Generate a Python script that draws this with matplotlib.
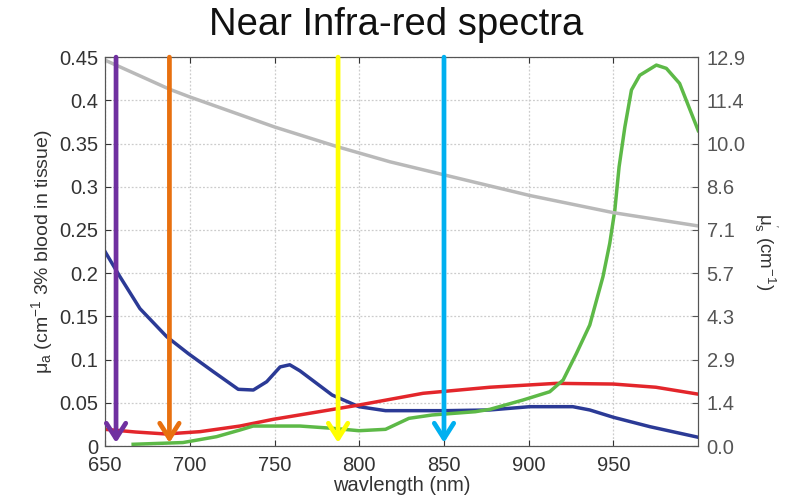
import matplotlib
matplotlib.use("Agg")
import matplotlib.pyplot as plt
import numpy as np

plt.rcParams['font.family'] = ['Liberation Sans', 'DejaVu Sans']
plt.rcParams['mathtext.fontset'] = 'custom'
plt.rcParams['mathtext.rm'] = 'Liberation Sans'
plt.rcParams['mathtext.it'] = 'Liberation Sans:italic'

# Deoxy-haemoglobin (blue), left axis
blue_x = [650, 658.8, 670.6, 686.4, 699.1, 713.9, 728.6, 737.5, 745.4, 753.3, 759, 765, 772.2,
          784, 799.8, 815.5, 850.9, 877, 900.6, 926, 936, 950, 971.6, 1000]
blue_y = [0.225, 0.196, 0.159, 0.1265, 0.107, 0.086, 0.0656, 0.0648, 0.0744, 0.0915, 0.094, 0.087,
          0.0764, 0.059, 0.0455, 0.0409, 0.0409, 0.0417, 0.0455, 0.0455, 0.0417, 0.0332, 0.0223, 0.0101]

# Oxy-haemoglobin (red), left axis
red_x = [650, 668, 686, 706, 729.6, 749.3, 765, 799.8, 837.7, 877, 916.3, 950, 975, 1000]
red_y = [0.0193, 0.0162, 0.0139, 0.0166, 0.0231, 0.0309, 0.036, 0.0474, 0.061, 0.068, 0.0725,
         0.0717, 0.068, 0.060]

# Water (green), left axis
green_x = [666.6, 696, 715.8, 729.6, 737.4, 765, 784, 799.8, 815.5, 829.3, 843, 868.5, 877, 896.6,
           912.4, 920.3, 928.1, 936, 943.8, 947.8, 950.8, 953.3, 956.7, 960.6, 965.5, 975.3,
           981.2, 989, 1000]
green_y = [0.002, 0.004, 0.0108, 0.0185, 0.0231, 0.0231, 0.0205, 0.0177, 0.0193, 0.032, 0.0359,
           0.0397, 0.0424, 0.0532, 0.0628, 0.0764, 0.107, 0.14, 0.196, 0.2345, 0.273, 0.323,
           0.369, 0.412, 0.429, 0.4408, 0.437, 0.4196, 0.365]

# Reduced scattering (grey), right axis (cm^-1)
grey_x = [650, 688.3, 700, 750.2, 787.6, 818, 850.4, 900.6, 950, 1000]
grey_y = [12.80, 11.83, 11.58, 10.58, 9.92, 9.43, 8.99, 8.31, 7.74, 7.30]

# Marked wavelengths (arrows)
arrow_x = [656.5, 688, 787.5, 850]
arrow_colors = ['#7030A0', '#E8700F', '#FFFF00', '#00B0F0']

x_ticks = [650, 700, 750, 800, 850, 900, 950]
left_ticks = [0, 0.05, 0.1, 0.15, 0.2, 0.25, 0.3, 0.35, 0.4, 0.45]
left_labels = ['0', '0.05', '0.1', '0.15', '0.2', '0.25', '0.3', '0.35', '0.4', '0.45']
right_labels = ['0.0', '1.4', '2.9', '4.3', '5.7', '7.1', '8.6', '10.0', '11.4', '12.9']

fig = plt.figure(figsize=(7.92, 4.96), dpi=100)
ax = fig.add_axes([0.1326, 0.1008, 0.749, 0.784])
ax2 = ax.twinx()

tick_col = '#333333'
ax.plot(blue_x, blue_y, color='#2B3A96', lw=2.5, zorder=3)
ax.plot(red_x, red_y, color='#E3262B', lw=2.5, zorder=3)
ax.plot(green_x, green_y, color='#5DB947', lw=2.5, zorder=3)
ax2.plot(grey_x, grey_y, color='#B9B9B9', lw=2.5, zorder=2)

ax.set_xlim(650, 1000)
ax.set_ylim(0, 0.45)
ax2.set_ylim(0, 12.9)
ax.set_xticks(x_ticks)
ax.set_yticks(left_ticks)
ax.set_yticklabels(left_labels)
ax2.set_yticks(np.linspace(0, 12.9, len(right_labels)))
ax2.set_yticklabels(right_labels)

ax.grid(True, linestyle=(0, (1.5, 1.5)), color='#cccccc', lw=0.9)
ax.tick_params(axis='y', direction='in', labelsize=14.5, colors=tick_col, length=4, pad=5)
ax.tick_params(axis='x', direction='in', top=True, labelsize=14.5, colors=tick_col, length=4, pad=7)
ax2.tick_params(axis='y', direction='in', labelsize=14.5, colors='#555555', length=4, pad=6)
for sp in list(ax.spines.values()) + list(ax2.spines.values()):
    sp.set_color('#555555')

for xv, c in zip(arrow_x, arrow_colors):
    ax2.annotate('', xy=(xv, 0.008), xycoords=('data', 'axes fraction'),
                 xytext=(xv, 1.0), textcoords=('data', 'axes fraction'),
                 arrowprops=dict(arrowstyle='->, head_length=0.55, head_width=0.35',
                                 color=c, lw=3.4, shrinkA=0, shrinkB=0,
                                 mutation_scale=20),
                 zorder=5)

ax.set_xlabel('wavlength (nm)', fontsize=14.5, color=tick_col, labelpad=1)
ax.set_ylabel('μ$_{\\mathrm{a}}$ (cm$^{\\mathrm{-1}}$ 3% blood in tissue)', fontsize=14,
              color=tick_col, labelpad=3)
ax2.set_ylabel("μ$_{\\mathrm{s}}^{\\mathrm{'}}$ (cm$^{\\mathrm{-1}}$)", fontsize=13.5,
               color=tick_col, rotation=270, labelpad=24)
fig.text(0.5, 0.95, 'Near Infra-red spectra', ha='center', va='center', fontsize=27.5, color='#111111')

fig.savefig('out.png', dpi=100, facecolor='white')
